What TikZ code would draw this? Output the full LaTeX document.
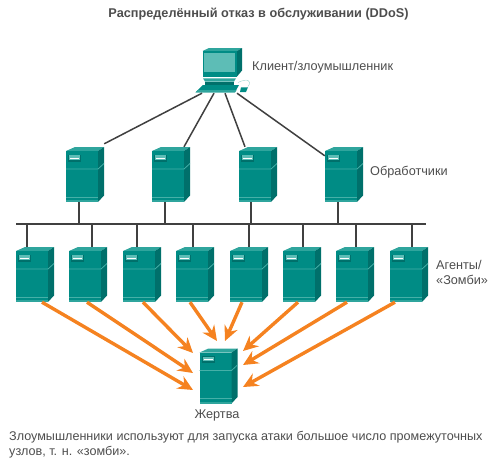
\documentclass[tikz,border=0pt]{standalone}
\usepackage{fontspec}
\setmainfont{Liberation Sans}
\usetikzlibrary{arrows.meta,calc}
\definecolor{tealfront}{HTML}{008C85}
\definecolor{tealside}{HTML}{00706B}
\definecolor{tealtop}{HTML}{2FA59D}
\definecolor{tealline}{HTML}{45B0A8}
\definecolor{tealscreen}{HTML}{5DBDB6}
\definecolor{wiregray}{HTML}{404040}
\definecolor{atkorange}{HTML}{F58220}
\definecolor{txtgray}{HTML}{4D4D4D}

\begin{document}
\begin{tikzpicture}[x=1pt,y=-1pt,>=Stealth]
\tikzstyle{srv}=[inner sep=0pt,minimum width=38pt,minimum height=55pt,path picture={
  \fill[tealtop] (-19,-23.5) -- (-10,-27.5) -- (19,-27.5) -- (13,-23.5) -- cycle;
  \fill[tealfront] (-19,-23.5) rectangle (13,27.5);
  \fill[tealside] (13,-23.5) -- (19,-27.5) -- (19,21) -- (13,27.5) -- cycle;
  \fill[tealline] (-19,22) rectangle (13,23);
  \fill[tealtop] (-19,25.5) rectangle (13,27.5);
  \draw[tealline,line width=.8pt] (-19,-5.5) -- (13,-5.5) -- (19,-11);
  \fill[tealside] (-17,-20) rectangle (-4,-13);
  \fill[tealscreen] (-16,-19.5) rectangle (-5,-15);
  \draw[white,line width=1pt] (-15,-16.5) -- (-6,-16.5);
}]
\tikzstyle{pcbox}=[inner sep=0pt,minimum width=56pt,minimum height=47pt,path picture={
  \draw[tealscreen!60,line width=.4pt] (16,12) .. controls (24,8) and (31,9) .. (26,16);
  \fill[tealtop] (-19.5,-19.5) -- (-13,-22.5) -- (20,-22.5) -- (15,-19.5) -- cycle;
  \fill[tealfront] (-19.5,-19.5) rectangle (15,6);
  \fill[tealside] (15,-19.5) -- (20,-22.5) -- (20,0) -- (15,6) -- cycle;
  \fill[tealscreen] (-18,-17.8) rectangle (13,1.2);
  \fill[tealtop] (-19,7.8) -- (14,7.8) -- (12,11) -- (-17,11) -- cycle;
  \fill[tealside] (-17,11) rectangle (12,14.5);
  \fill[tealfront] (-19,14.5) -- (17,14.5) -- (13,21.8) -- (-26.5,21.8) -- cycle;
  \fill[tealtop] (-26.5,21.8) -- (-24,19.5) -- (14.5,19.5) -- (13,21.8) -- cycle;
  \fill[tealfront] (19,16.8) -- (26,16.8) -- (24,21.5) -- (18,21.5) -- cycle;
}]
\tikzstyle{wire}=[draw=wiregray,line width=1.7pt]
\tikzstyle{atk}=[->,draw=atkorange,line width=3.4pt,>={Stealth[length=15pt,width=14pt,inset=5pt]}]
\tikzstyle{lbl}=[text=txtgray,font=\fontsize{12.7}{15}\selectfont,inner sep=0pt]
\useasboundingbox (0,0) rectangle (499,467);

\node[font=\bfseries\fontsize{12.7}{15}\selectfont,text=txtgray,inner sep=0pt] (title) at (258.5,14) {Распределённый отказ в обслуживании (DDoS)};

\node[pcbox] (pc) at (222,70.5) {};
\node[lbl,anchor=west] (pclbl) at (252,67) {Клиент/злоумышленник};

\node[srv] (h1) at (85,174.5) {};
\node[srv] (h2) at (171,174.5) {};
\node[srv] (h3) at (258,174.5) {};
\node[srv] (h4) at (344,174.5) {};
\node[lbl,anchor=west] (hlbl) at (370,172) {Обработчики};

\coordinate (busl) at (16,224);
\coordinate (busr) at (426,224);
\draw[wire] (busl) -- (busr);

\foreach \i/\x in {1/35,2/88,3/142,4/195,5/249,6/302,7/355,8/409}
  \node[srv] (a\i) at (\x,274.5) {};
\node[lbl,anchor=west,align=left] (albl) at (436,272.5) {Агенты/\\«Зомби»};

\node[srv] (vic) at (218.5,376) {};
\node[lbl] (viclbl) at (217,415) {Жертва};

\draw[wire,line width=1.5pt] ($(pc.south)+(-20,-1)$) -- ([yshift=3pt]h1.north east);
\draw[wire,line width=1.5pt] ($(pc.south)+(-8,-1)$) -- ([xshift=13pt]h2.north);
\draw[wire,line width=1.5pt] ($(pc.south)+(3,-1)$) -- ([xshift=-13pt]h3.north);
\draw[wire,line width=1.5pt] ($(pc.south)+(15,-1)$) -- ([yshift=-9pt]h4.north west);

\foreach \i/\dx in {1/-6,2/-6,3/-7,4/-6}
  \draw[wire] ([xshift=\dx pt]h\i.south) -- ++(0,22);

\foreach \i/\dx in {1/-8,2/4,3/-5,4/-2,5/0,6/1,7/1,8/3}
  \draw[wire] ([xshift=\dx pt]a\i.north) -- ++(0,-23);

\draw[atk] ([xshift=7pt]a1.south) -- ($(vic)+(-25.5,14)$);
\draw[atk] ([xshift=-1pt]a2.south) -- ($(vic)+(-25.5,-3)$);
\draw[atk] ([xshift=1pt]a3.south) -- ($(vic)+(-25.5,-23)$);
\draw[atk] ([xshift=-5pt]a4.south) -- ($(vic)+(-1.5,-35)$);
\draw[atk] ([xshift=-7pt]a5.south) -- ($(vic)+(6.5,-35)$);
\draw[atk] ([xshift=-4pt]a6.south) -- ($(vic)+(24.5,-25)$);
\draw[atk] ([xshift=-8pt]a7.south) -- ($(vic)+(24.5,-11)$);
\draw[atk] ([xshift=-14pt]a8.south) -- ($(vic)+(24.5,11)$);

\node[lbl,anchor=north west,align=left,font=\fontsize{12.6}{15}\selectfont] (cap) at (9,431) {Злоумышленники используют для запуска атаки большое число промежуточных\\узлов, т. н. «зомби».};
\end{tikzpicture}
\end{document}
